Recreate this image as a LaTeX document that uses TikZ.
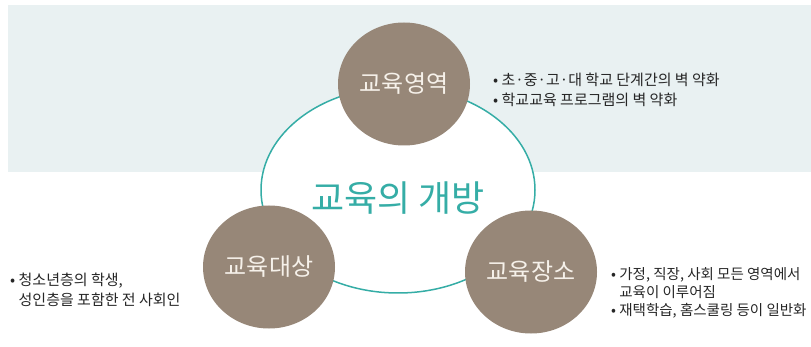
\documentclass[tikz,border=0pt]{standalone}
\usepackage{fontspec}
\setmainfont{Noto Sans CJK KR}
\usetikzlibrary{shapes.geometric}
\definecolor{bandgray}{HTML}{E9F1F2}
\definecolor{tealline}{HTML}{35ADA6}
\definecolor{stone}{HTML}{978778}
\definecolor{cream}{HTML}{F6F1EA}

\begin{document}
\begin{tikzpicture}[x=1pt,y=-1pt,topic/.style ={ellipse, fill=stone, minimum width=132pt, minimum height=123pt, inner sep=0pt, text=cream, font=\fontsize{24}{24}\selectfont}, note/.style ={anchor=west, align=left, inner sep=0pt, text=black!85}]%
\useasboundingbox (0,0) rectangle (811,347);
\fill[bandgray] (8,5) rectangle (811,172);
\draw (398,190) node[ellipse, draw=tealline, line width=1.5pt, fill=white, minimum width=274pt, minimum height=206pt] (Open) {};
\draw (398,198) node[text=tealline, font=\fontsize{36}{36}\selectfont] (Title) {교육의 개방};
\draw (404,84) node[topic] (Area) {교육영역};
\draw (269,267) node[topic] (Target) {교육대상};
\draw (531,272) node[topic] (Place) {교육장소};
\draw (493,90) node[note, font=\fontsize{15}{20}\selectfont] (AreaNote) {• 초·중·고·대 학교 단계간의 벽 약화\\• 학교교육 프로그램의 벽 약화};
\draw (10,290) node[note, font=\fontsize{15}{20}\selectfont] (TargetNote) {• 청소년층의 학생,\\\hphantom{• }성인층을 포함한 전 사회인};
\draw (611,293) node[note, font=\fontsize{14.5}{18}\selectfont] (PlaceNote) {• 가정, 직장, 사회 모든 영역에서\\\hphantom{• }교육이 이루어짐\\• 재택학습, 홈스쿨링 등이 일반화};
\end{tikzpicture}
\end{document}
